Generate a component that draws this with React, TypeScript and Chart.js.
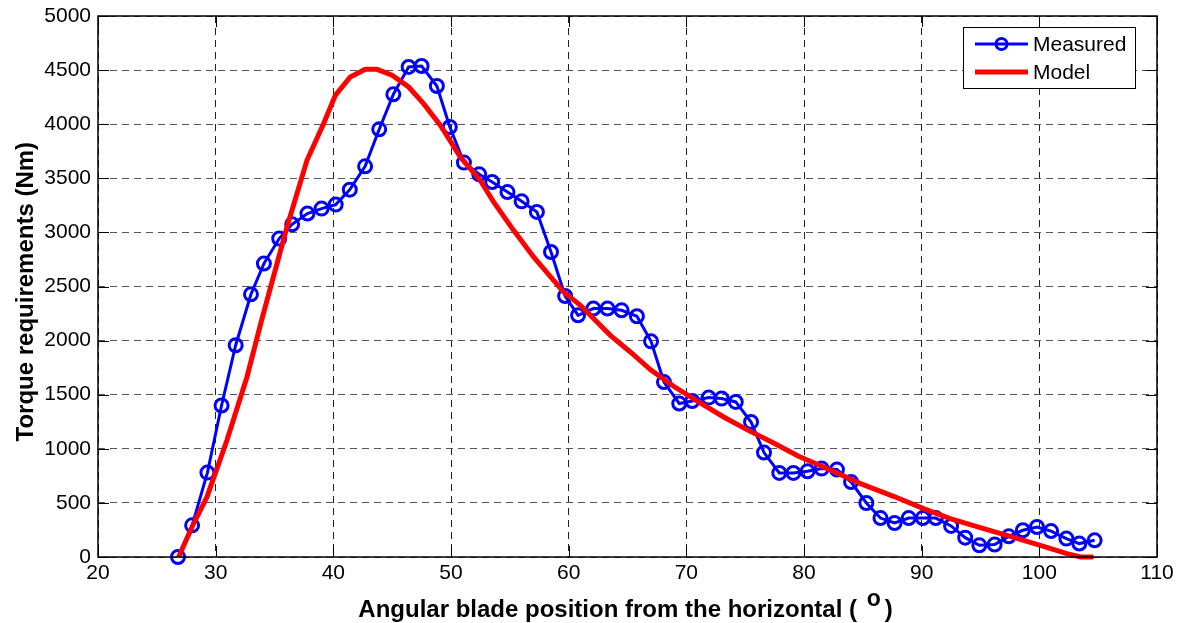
import React, { useEffect, useRef } from "react";
import { Chart, registerables } from "chart.js";

Chart.register(...registerables);

const measuredX = [26.8, 28.0, 29.3, 30.5, 31.7, 33.0, 34.1, 35.4, 36.5, 37.8, 39.0, 40.2, 41.4, 42.7, 43.9, 45.1, 46.4, 47.5, 48.8, 49.9, 51.1, 52.4, 53.5, 54.8, 56.0, 57.3, 58.5, 59.7, 60.8, 62.1, 63.3, 64.5, 65.8, 67.0, 68.1, 69.4, 70.5, 71.9, 73.0, 74.2, 75.5, 76.6, 77.9, 79.1, 80.3, 81.5, 82.8, 84.0, 85.3, 86.5, 87.7, 88.9, 90.1, 91.2, 92.5, 93.7, 94.9, 96.2, 97.4, 98.6, 99.8, 101.0, 102.3, 103.4, 104.7];
const measuredY = [0, 293, 780, 1400, 1957, 2428, 2712, 2943, 3075, 3174, 3220, 3257, 3395, 3611, 3953, 4276, 4529, 4538, 4353, 3974, 3645, 3537, 3466, 3373, 3287, 3189, 2819, 2412, 2234, 2296, 2296, 2280, 2225, 1993, 1617, 1418, 1442, 1473, 1464, 1433, 1248, 965, 777, 777, 792, 817, 808, 693, 499, 360, 314, 360, 360, 360, 287, 179, 108, 115, 191, 247, 277, 240, 170, 124, 154];

const modelX = [26.85, 28.0, 29.26, 30.96, 32.66, 33.9, 36.06, 37.76, 39.17, 40.17, 41.44, 42.72, 43.71, 44.99, 46.4, 47.67, 49.09, 50.79, 52.49, 53.62, 55.32, 57.02, 59.57, 61.0, 63.54, 65.24, 66.94, 68.92, 70.9, 73.17, 75.15, 77.42, 79.54, 81.67, 84.8, 87.61, 90.16, 92.43, 94.98, 97.53, 100.08, 102.35, 103.5, 104.6];
const modelY = [0, 280, 555, 1079, 1664, 2188, 3050, 3666, 4005, 4267, 4436, 4507, 4507, 4452, 4344, 4190, 3990, 3697, 3481, 3281, 3019, 2773, 2449, 2326, 2049, 1895, 1732, 1578, 1442, 1294, 1177, 1054, 931, 832, 678, 561, 447, 355, 272, 191, 108, 31, 0, 0];

const xTicks = [20, 30, 40, 50, 60, 70, 80, 90, 100, 110];
const yTicks = [0, 500, 1000, 1500, 2000, 2500, 3000, 3500, 4000, 4500, 5000];

const seriesNames = ["Measured", "Model"];
const xTitle = "Angular blade position from the horizontal";
const yTitle = "Torque requirements (Nm)";

const FONT = "'Liberation Sans', Arial, sans-serif";
const BLUE = "#0000ff";
const RED = "#ff0000";

const framePlugin = {
  id: "matlabFrame",
  afterDraw(chart: any) {
    const { ctx, chartArea: a, scales } = chart;
    ctx.save();
    ctx.strokeStyle = "#000";
    ctx.lineWidth = 1.5;
    ctx.strokeRect(a.left, a.top, a.right - a.left, a.bottom - a.top);
    ctx.lineWidth = 1;
    const tl = 11;
    xTicks.forEach((v) => {
      const px = Math.round(scales.x.getPixelForValue(v)) + 0.5;
      ctx.beginPath();
      ctx.moveTo(px, a.bottom);
      ctx.lineTo(px, a.bottom - tl);
      ctx.moveTo(px, a.top);
      ctx.lineTo(px, a.top + tl);
      ctx.stroke();
    });
    yTicks.forEach((v) => {
      const py = Math.round(scales.y.getPixelForValue(v)) + 0.5;
      ctx.beginPath();
      ctx.moveTo(a.left, py);
      ctx.lineTo(a.left + tl, py);
      ctx.moveTo(a.right, py);
      ctx.lineTo(a.right - tl, py);
      ctx.stroke();
    });

    // legend
    const lx = 963.5, ly = 27.5, lw = 172, lh = 61;
    ctx.fillStyle = "#fff";
    ctx.fillRect(lx, ly, lw, lh);
    ctx.strokeStyle = "#000";
    ctx.lineWidth = 1;
    ctx.strokeRect(lx, ly, lw, lh);
    ctx.font = `21px ${FONT}`;
    ctx.textBaseline = "middle";
    ctx.textAlign = "left";
    ctx.strokeStyle = BLUE;
    ctx.lineWidth = 3;
    ctx.beginPath();
    ctx.moveTo(975, 44);
    ctx.lineTo(1028, 44);
    ctx.stroke();
    ctx.beginPath();
    ctx.arc(1001.5, 44, 5.5, 0, Math.PI * 2);
    ctx.stroke();
    ctx.fillStyle = "#000";
    ctx.fillText(seriesNames[0], 1033, 45);
    ctx.strokeStyle = RED;
    ctx.lineWidth = 5;
    ctx.beginPath();
    ctx.moveTo(975, 72);
    ctx.lineTo(1028, 72);
    ctx.stroke();
    ctx.fillText(seriesNames[1], 1033, 73);

    // x axis title with superscript "o"
    ctx.fillStyle = "#000";
    ctx.textBaseline = "alphabetic";
    ctx.textAlign = "left";
    ctx.font = `bold 24px ${FONT}`;
    const part1 = xTitle + " ( ";
    const w1 = ctx.measureText(part1).width;
    const wClose = ctx.measureText(")").width;
    ctx.font = `bold 23px ${FONT}`;
    const wo = ctx.measureText("o").width;
    const gapA = 3;
    const gapB = 4;
    const total = w1 + gapA + wo + gapB + wClose;
    const sx = 356 + (539 - total) / 2;
    const by = 616.5;
    ctx.font = `bold 24px ${FONT}`;
    ctx.fillText(part1, sx, by);
    ctx.font = `bold 23px ${FONT}`;
    ctx.fillText("o", sx + w1 + gapA, by - 11);
    ctx.font = `bold 24px ${FONT}`;
    ctx.fillText(")", sx + w1 + gapA + wo + gapB, by);

    // y axis title
    ctx.save();
    ctx.translate(33, 291.7);
    ctx.rotate(-Math.PI / 2);
    ctx.textAlign = "center";
    ctx.font = `bold 24px ${FONT}`;
    ctx.fillText(yTitle, 0, 0);
    ctx.restore();

    ctx.restore();
  },
};

export default function App() {
  const ref = useRef<HTMLCanvasElement | null>(null);
  useEffect(() => {
    if (!ref.current) return;
    const chart = new Chart(ref.current, {
      type: "line",
      data: {
        datasets: [
          {
            label: seriesNames[0],
            data: measuredX.map((x, i) => ({ x, y: measuredY[i] })),
            borderColor: BLUE,
            borderWidth: 3,
            pointRadius: 6.5,
            pointBorderWidth: 3,
            pointBorderColor: BLUE,
            pointBackgroundColor: "rgba(0,0,0,0)",
            tension: 0,
            clip: false,
            order: 2,
          },
          {
            label: seriesNames[1],
            data: modelX.map((x, i) => ({ x, y: modelY[i] })),
            borderColor: RED,
            borderWidth: 5,
            pointRadius: 0,
            tension: 0,
            clip: false,
            order: 1,
          },
        ],
      },
      options: {
        animation: false,
        responsive: false,
        maintainAspectRatio: false,
        layout: { padding: { left: 0, top: 16, right: 29, bottom: 0 } },
        plugins: { legend: { display: false }, tooltip: { enabled: false } },
        scales: {
          x: {
            type: "linear",
            min: 20,
            max: 110,
            afterBuildTicks: (s: any) => {
              s.ticks = xTicks.map((v) => ({ value: v }));
            },
            afterFit: (s: any) => {
              s.height = 66;
              s.paddingLeft = 0;
              s.paddingRight = 0;
            },
            ticks: {
              color: "#000",
              font: { family: FONT, size: 21 },
              padding: 4,
              maxRotation: 0,
              callback: (v: any) => String(v),
            },
            grid: { color: "#222", lineWidth: 1, drawTicks: false },
            border: { display: false, dash: [7, 5] },
          },
          y: {
            type: "linear",
            min: 0,
            max: 5000,
            afterBuildTicks: (s: any) => {
              s.ticks = yTicks.map((v) => ({ value: v }));
            },
            afterFit: (s: any) => {
              s.width = 98;
              s.paddingTop = 0;
              s.paddingBottom = 0;
            },
            ticks: {
              color: "#000",
              font: { family: FONT, size: 21 },
              padding: 7,
              callback: (v: any) => String(v),
            },
            grid: { color: "#555", lineWidth: 1, drawTicks: false },
            border: { display: false, dash: [7, 5] },
          },
        },
      },
      plugins: [framePlugin],
    } as any);
    return () => chart.destroy();
  }, []);
  return (
    <div style={{ position: "absolute", left: 0, top: 0, width: 1186, height: 623, background: "#fff" }}>
      <canvas ref={ref} width={1186} height={623} style={{ width: 1186, height: 623, display: "block" }} />
    </div>
  );
}
